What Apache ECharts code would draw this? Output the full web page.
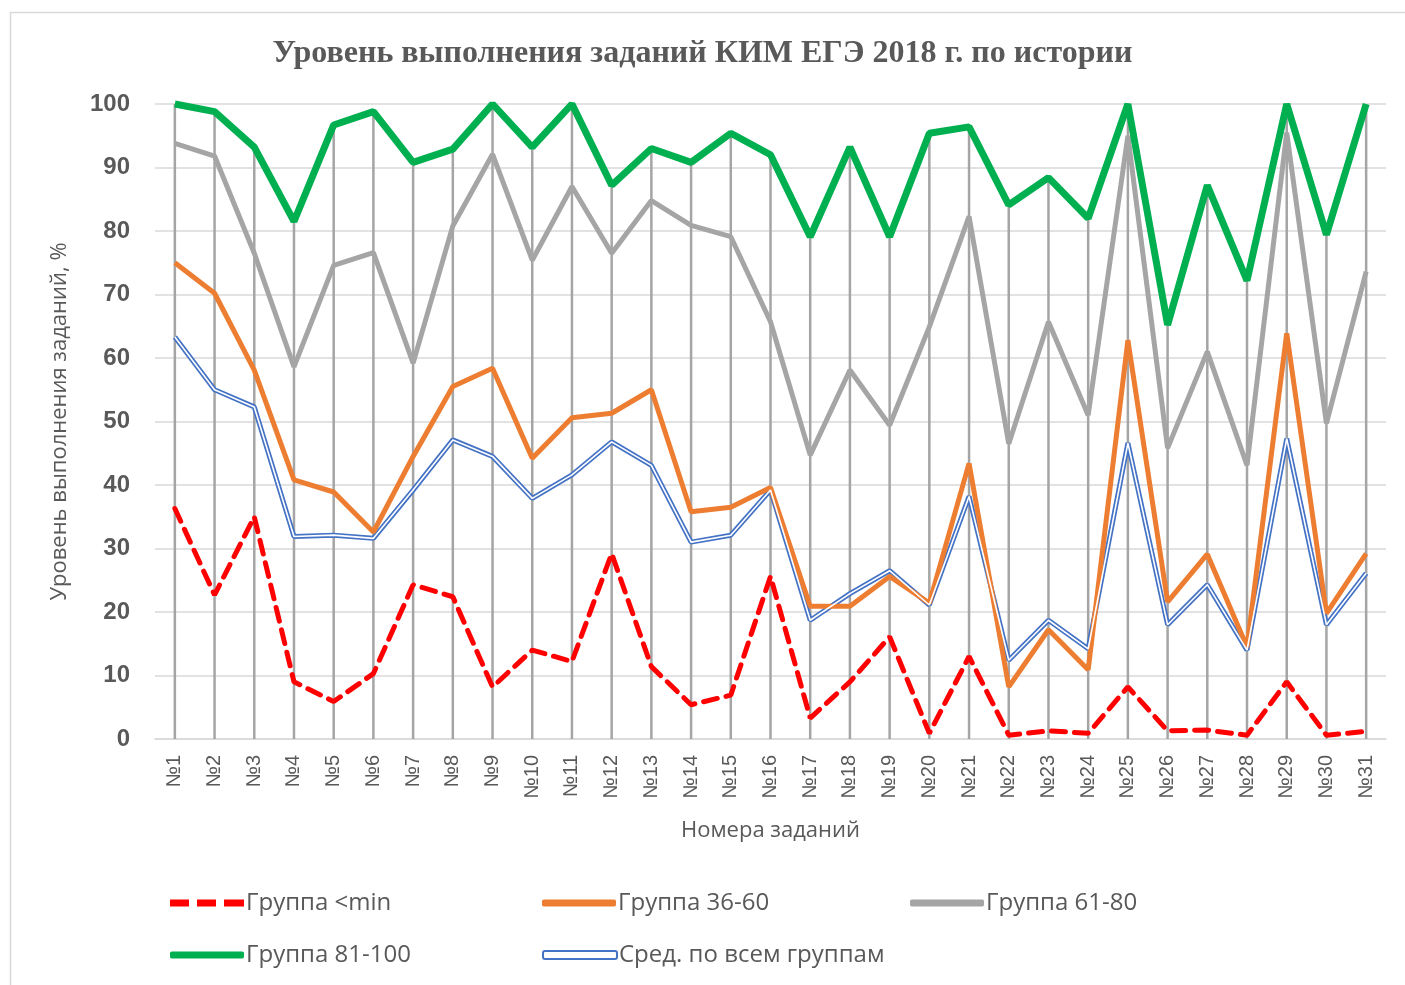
<!DOCTYPE html>
<html>
<head>
<meta charset="utf-8">
<script src="https://cdn.jsdelivr.net/npm/echarts@6/dist/echarts.min.js"></script>
<style>
html,body{margin:0;padding:0;background:#fff;}
#chart{width:1405px;height:985px;}
</style>
</head>
<body>
<div id="chart"></div>
<script>
const categories = ['№1','№2','№3','№4','№5','№6','№7','№8','№9','№10','№11','№12','№13','№14','№15','№16','№17','№18','№19','№20','№21','№22','№23','№24','№25','№26','№27','№28','№29','№30','№31'];
const groupMin = [36.3, 22.7, 35.0, 9.0, 5.9, 10.3, 24.3, 22.4, 8.2, 14.0, 12.2, 29.2, 11.4, 5.4, 6.9, 25.6, 3.3, 9.0, 16.1, 0.9, 13.0, 0.6, 1.3, 0.9, 8.2, 1.3, 1.4, 0.6, 9.0, 0.6, 1.2];
const group36_60 = [75.0, 70.2, 58.1, 40.8, 38.9, 32.6, 44.5, 55.5, 58.4, 44.2, 50.6, 51.3, 55.0, 35.8, 36.5, 39.6, 20.9, 20.9, 25.6, 21.4, 43.4, 8.2, 17.2, 10.9, 62.8, 21.6, 29.1, 14.5, 63.9, 19.8, 29.2];
const group61_80 = [93.8, 91.8, 76.5, 58.6, 74.6, 76.6, 59.2, 80.8, 92.1, 75.4, 87.0, 76.5, 84.8, 80.9, 79.1, 65.7, 44.7, 58.1, 49.4, 64.9, 82.3, 46.5, 65.7, 51.0, 95.0, 45.8, 61.0, 43.1, 95.5, 49.7, 73.6];
const group81_100 = [100, 98.8, 93.2, 81.5, 96.7, 98.8, 90.8, 92.9, 100, 93.2, 100, 87.2, 93.0, 90.8, 95.4, 92.0, 79.1, 93.2, 79.1, 95.4, 96.4, 84.1, 88.4, 82.0, 100, 65.2, 87.2, 72.2, 100, 79.4, 100];
const average = [63.3, 55.0, 52.3, 31.9, 32.1, 31.6, 39.2, 47.1, 44.5, 37.9, 41.6, 46.8, 43.1, 31.0, 32.1, 39.2, 18.7, 22.9, 26.5, 21.1, 38.2, 12.4, 18.7, 14.2, 46.6, 18.0, 24.3, 14.0, 47.3, 18.0, 26.1];
const yTicks = [0, 10, 20, 30, 40, 50, 60, 70, 80, 90, 100];

const names = ['Группа <min', 'Группа 36-60', 'Группа 61-80', 'Группа 81-100', 'Сред. по всем группам'];
const dropLines = categories.map((c, i) => Math.max(groupMin[i], group36_60[i], group61_80[i], group81_100[i], average[i]));

const TXT = '#595959';
const chart = echarts.init(document.getElementById('chart'), null, {renderer: 'canvas'});

function legendAt(name, left, top, icon, color, extra) {
  return Object.assign({
    data: [{name: name, icon: icon, itemStyle: {color: color}}],
    left: left, top: top, itemWidth: 74, itemHeight: 7, itemGap: 0,
    textStyle: {color: TXT, fontSize: 24, fontFamily: 'Open Sans, Liberation Sans, sans-serif', padding: [0, 0, 0, -3]},
    selectedMode: false
  }, extra || {});
}

const option = {
  backgroundColor: '#fff',
  animation: false,
  title: {
    text: 'Уровень выполнения заданий КИМ ЕГЭ 2018 г. по истории',
    left: 'center', top: 33,
    textStyle: {color: TXT, fontSize: 32, fontWeight: 'bold', fontFamily: 'Liberation Serif, DejaVu Serif, serif'}
  },
  graphic: [{
    type: 'rect', shape: {x: 10.5, y: 12.5, width: 1600, height: 1600},
    style: {fill: 'none', stroke: '#d9d9d9', lineWidth: 1.5}, silent: true
  }],
  legend: [
    legendAt(names[0], 165, 886, 'path://M0,0H19V7H0Z M27,0H46V7H27Z M54,0H74V7H54Z', '#ff0000'),
    legendAt(names[1], 537, 886, 'roundRect', '#ed7d31'),
    legendAt(names[2], 905, 886, 'roundRect', '#a5a5a5'),
    legendAt(names[3], 165, 938, 'roundRect', '#00b050'),
    legendAt(names[4], 537, 938, 'roundRect', '#ffffff', {
      data: [{name: names[4], icon: 'roundRect', itemStyle: {color: '#ffffff', borderColor: '#4472c4', borderWidth: 2}}],
      itemHeight: 8
    })
  ],
  grid: {left: 155, right: 19, top: 104, bottom: 246, containLabel: false},
  xAxis: {
    type: 'category', data: categories, boundaryGap: true,
    axisLine: {show: true, lineStyle: {color: '#d9d9d9', width: 1.5}},
    axisTick: {show: false},
    axisLabel: {rotate: 90, color: TXT, fontSize: 20, margin: 16, fontFamily: 'Liberation Sans Narrow, Liberation Sans, sans-serif'},
    name: 'Номера заданий', nameLocation: 'middle', nameGap: 81,
    nameTextStyle: {color: TXT, fontSize: 22, fontFamily: 'Open Sans, Liberation Sans, sans-serif'}
  },
  yAxis: {
    type: 'value', min: 0, max: 100, interval: 10,
    axisLine: {show: false}, axisTick: {show: false},
    splitLine: {lineStyle: {color: '#d9d9d9', width: 1.5}},
    axisLabel: {color: TXT, fontSize: 24, fontWeight: 'bold', margin: 25, fontFamily: 'Liberation Sans, sans-serif'},
    name: 'Уровень выполнения заданий, %', nameLocation: 'middle', nameGap: 84,
    nameTextStyle: {color: TXT, fontSize: 22, fontFamily: 'Open Sans, Liberation Sans, sans-serif'}
  },
  series: [
    {
      name: 'drop', type: 'bar', data: dropLines, barWidth: 2.5, silent: true, z: 1,
      itemStyle: {color: '#a5a5a5'}, legendHoverLink: false
    },
    {
      name: names[4], type: 'line', data: average, symbol: 'none', clip: false, z: 3,
      lineStyle: {color: '#4472c4', width: 5}, itemStyle: {color: '#4472c4'}
    },
    {
      name: 'avg-inner', type: 'line', data: average, symbol: 'none', clip: false, z: 4, silent: true,
      lineStyle: {color: '#ffffff', width: 1.6}
    },
    {
      name: names[1], type: 'line', data: group36_60, symbol: 'none', clip: false, z: 3,
      lineStyle: {color: '#ed7d31', width: 5}, itemStyle: {color: '#ed7d31'}
    },
    {
      name: names[2], type: 'line', data: group61_80, symbol: 'none', clip: false, z: 3,
      lineStyle: {color: '#a5a5a5', width: 5}, itemStyle: {color: '#a5a5a5'}
    },
    {
      name: names[3], type: 'line', data: group81_100, symbol: 'none', clip: false, z: 3,
      lineStyle: {color: '#00b050', width: 7}, itemStyle: {color: '#00b050'}
    },
    {
      name: names[0], type: 'line', data: groupMin, symbol: 'none', clip: false, z: 5,
      lineStyle: {color: '#ff0000', width: 5, type: [14, 9], cap: 'round'}, itemStyle: {color: '#ff0000'}
    }
  ]
};
chart.setOption(option);
</script>
</body>
</html>
